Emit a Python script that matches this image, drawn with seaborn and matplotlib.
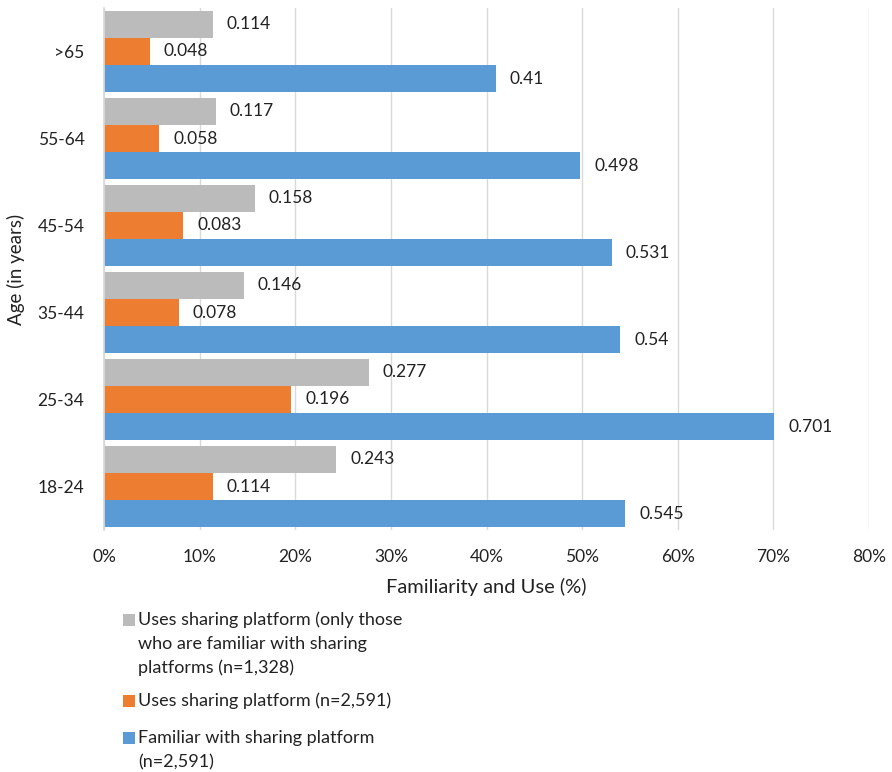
import matplotlib
matplotlib.use("Agg")
import matplotlib.pyplot as plt
import seaborn as sns
import pandas as pd
from matplotlib.patches import Rectangle
from matplotlib.ticker import PercentFormatter

ages = [">65", "55-64", "45-54", "35-44", "25-34", "18-24"]
series_names = [
    "Uses sharing platform (only those\nwho are familiar with sharing\nplatforms (n=1,328)",
    "Uses sharing platform (n=2,591)",
    "Familiar with sharing platform\n(n=2,591)",
]
uses_familiar = [0.114, 0.117, 0.158, 0.146, 0.277, 0.243]
uses_all = [0.048, 0.058, 0.083, 0.078, 0.196, 0.114]
familiar = [0.41, 0.498, 0.531, 0.54, 0.701, 0.545]
label_texts = [
    ["0.114", "0.117", "0.158", "0.146", "0.277", "0.243"],
    ["0.048", "0.058", "0.083", "0.078", "0.196", "0.114"],
    ["0.41", "0.498", "0.531", "0.54", "0.701", "0.545"],
]
colors = ["#BBBBBB", "#ED7D31", "#5B9BD5"]

rows = []
for name, vals in zip(series_names, [uses_familiar, uses_all, familiar]):
    for a, v in zip(ages, vals):
        rows.append({"Age": a, "Series": name, "Value": v})
df = pd.DataFrame(rows)

sns.set_theme(style="white")
plt.rcParams["font.family"] = ["Lato", "DejaVu Sans"]
txt = "#222222"

W, H = 892, 772
fig = plt.figure(figsize=(W/100, H/100), dpi=100)
ax = fig.add_axes([104/W, 1-530/H, (869-104)/W, (530-8)/H])

sns.barplot(data=df, x="Value", y="Age", hue="Series", order=ages,
            hue_order=series_names, palette=colors, orient="h",
            width=0.94, gap=0, saturation=1, ax=ax, legend=False,
            edgecolor="none", linewidth=0)

for cont, labs in zip(ax.containers, label_texts):
    ax.bar_label(cont, labels=labs, padding=10, fontsize=12.5, color=txt)

ax.set_xlim(0, 0.8)
ax.set_xticks([i/10 for i in range(9)])
ax.xaxis.set_major_formatter(PercentFormatter(1.0, decimals=0))
ax.grid(axis="x", color="#D9D9D9", linewidth=1)
ax.grid(axis="y", visible=False)
ax.set_axisbelow(True)
for s in ["top", "right", "bottom"]:
    ax.spines[s].set_visible(False)
ax.spines["left"].set_color("#D9D9D9")
ax.tick_params(axis="x", labelsize=12.5, colors=txt, length=0, pad=14)
ax.tick_params(axis="y", labelsize=12.5, colors=txt, length=0, pad=14)
ax.set_xlabel("Familiarity and Use (%)", fontsize=14.5, color=txt, labelpad=9)
ax.set_ylabel("Age (in years)", fontsize=13.5, color=txt, labelpad=9)

# Legend below the plot, handles aligned with the first line of each entry
entry_tops = [620, 701, 738]
line_step = 24
for color, name, y0 in zip(colors, series_names, entry_tops):
    fig.patches.append(Rectangle((123/W, 1-(y0+6)/H), 12/W, 12/H,
                                 transform=fig.transFigure, facecolor=color,
                                 edgecolor="none"))
    for i, line in enumerate(name.split("\n")):
        fig.text(138/W, 1-(y0+i*line_step)/H, line, fontsize=13,
                 color=txt, va="center", ha="left")

fig.savefig("out.png", dpi=100)
